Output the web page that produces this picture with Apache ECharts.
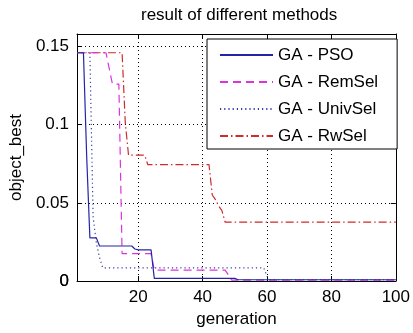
<!DOCTYPE html>
<html>
<head>
<meta charset="utf-8">
<script src="https://cdn.jsdelivr.net/npm/echarts@6/dist/echarts.min.js"></script>
<style>html,body{margin:0;padding:0;background:#fff;}#c{width:413px;height:333px;}</style>
</head>
<body>
<div id="c"></div>
<script>
// ---- data (generation, object_best) ----
const psoGen = [1, 3, 4, 5, 7, 8, 18, 19, 20, 24, 25, 50, 51, 100];
const psoVal = [0.146, 0.146, 0.08, 0.0276, 0.0276, 0.0224, 0.0224, 0.0205, 0.0199, 0.0199, 0.0017, 0.0017, 0.0008, 0.0008];

const remGen = [1, 10, 11, 12, 14, 15, 24, 25, 47, 48, 49, 100];
const remVal = [0.146, 0.146, 0.136, 0.126, 0.126, 0.0175, 0.0175, 0.007, 0.007, 0.004, 0.0006, 0.0006];

const univGen = [1, 5, 6, 7, 8, 9, 59, 60, 61, 100];
const univVal = [0.146, 0.146, 0.041, 0.0244, 0.015, 0.0084, 0.0084, 0.003, 0.0008, 0.0008];

const rwGen = [1, 15, 16, 17, 22, 23, 42, 43, 44, 45, 46, 47, 100];
const rwVal = [0.146, 0.146, 0.101, 0.0805, 0.0805, 0.0744, 0.0744, 0.055, 0.052, 0.048, 0.045, 0.0376, 0.0376];

const seriesNames = ['GA - PSO', 'GA - RemSel', 'GA - UnivSel', 'GA - RwSel'];
const xTicks = [20, 40, 60, 80, 100];
const yTicks = [0, 0.05, 0.1, 0.15];
const xRange = [1, 100];
const yRange = [0, 0.158];

const zip = (g, v) => g.map((x, i) => [x, v[i]]);
const FONT = "'Liberation Sans', Arial, Helvetica, sans-serif";

const chart = echarts.init(document.getElementById('c'), null, {renderer: 'canvas'});
const gridDots = {show: true, lineStyle: {color: '#000', width: 1, type: [1, 3]}};
const baseX = {
  type: 'value', min: xRange[0], max: xRange[1],
  axisLine: {show: true, onZero: false, lineStyle: {color: '#000', width: 1}},
  axisTick: {show: true, inside: true, length: 5, customValues: xTicks, lineStyle: {color: '#000'}},
};
const baseY = {
  type: 'value', min: yRange[0], max: yRange[1], interval: 0.05,
  axisLine: {show: true, onZero: false, lineStyle: {color: '#000', width: 1}},
  axisTick: {show: true, inside: true, length: 5, customValues: yTicks, lineStyle: {color: '#000'}},
};
const labelText = {fontFamily: FONT, fontSize: 17, color: '#000'};

chart.setOption({
  animation: false,
  backgroundColor: '#fff',
  title: {
    text: 'result of different methods',
    left: 136, top: 2,
    textStyle: {fontFamily: FONT, fontSize: 17, fontWeight: 'normal', color: '#000'}
  },
  grid: {left: 76, right: 15, top: 34, bottom: 52, containLabel: false},
  legend: {
    data: seriesNames,
    orient: 'vertical',
    left: 207, top: 39,
    padding: [6, 19, 3, 12],
    itemWidth: 53, itemHeight: 14, itemGap: 7, itemTextGap: 3,
    itemStyle: {opacity: 0},
    backgroundColor: '#fff',
    borderColor: '#000', borderWidth: 1, borderRadius: 0,
    textStyle: {fontFamily: FONT, fontSize: 17, color: '#000', lineHeight: 20}
  },
  xAxis: [
    Object.assign({}, baseX, {
      position: 'bottom',
      name: 'generation', nameLocation: 'middle', nameGap: 30,
      nameTextStyle: labelText,
      axisLabel: Object.assign({customValues: xTicks, margin: 8}, labelText),
      splitLine: gridDots
    }),
    Object.assign({}, baseX, {
      position: 'top', axisLabel: {show: false}, splitLine: {show: false}
    })
  ],
  yAxis: [
    Object.assign({}, baseY, {
      position: 'left',
      name: 'object_best', nameLocation: 'middle', nameGap: 52, nameRotate: 90,
      nameTextStyle: labelText,
      axisLabel: Object.assign({customValues: yTicks, showMaxLabel: true, margin: 8}, labelText),
      splitLine: gridDots
    }),
    Object.assign({}, baseY, {
      position: 'right', axisLabel: {show: false}, splitLine: {show: false}
    })
  ],
  series: [
    {name: seriesNames[0], type: 'line', data: zip(psoGen, psoVal), showSymbol: false, symbol: 'none',
     lineStyle: {color: '#2424a8', width: 1.2, type: 'solid'}, itemStyle: {color: '#2424a8'}, z: 5},
    {name: seriesNames[1], type: 'line', data: zip(remGen, remVal), showSymbol: false, symbol: 'none',
     lineStyle: {color: '#dd33dd', width: 1.2, type: [8, 5]}, itemStyle: {color: '#dd33dd'}, z: 4},
    {name: seriesNames[2], type: 'line', data: zip(univGen, univVal), showSymbol: false, symbol: 'none',
     lineStyle: {color: '#3a3aa8', width: 1.2, type: [1.2, 3]}, itemStyle: {color: '#3a3aa8'}, z: 3},
    {name: seriesNames[3], type: 'line', data: zip(rwGen, rwVal), showSymbol: false, symbol: 'none',
     lineStyle: {color: '#d02a2a', width: 1.2, type: [8, 3, 1.5, 3]}, itemStyle: {color: '#d02a2a'}, z: 2}
  ]
});

// The library hides the y "0" label at the axis corner; place it from the axis scale.
const zeroY = chart.convertToPixel({yAxisIndex: 0}, yTicks[0]);
const leftX = chart.convertToPixel({xAxisIndex: 0}, xRange[0]);
chart.setOption({
  graphic: [{
    type: 'text', x: leftX - 8, y: zeroY, silent: true,
    style: {text: String(yTicks[0]), fill: '#000', font: '17px ' + FONT, align: 'right', verticalAlign: 'middle'}
  }]
});
</script>
</body>
</html>
